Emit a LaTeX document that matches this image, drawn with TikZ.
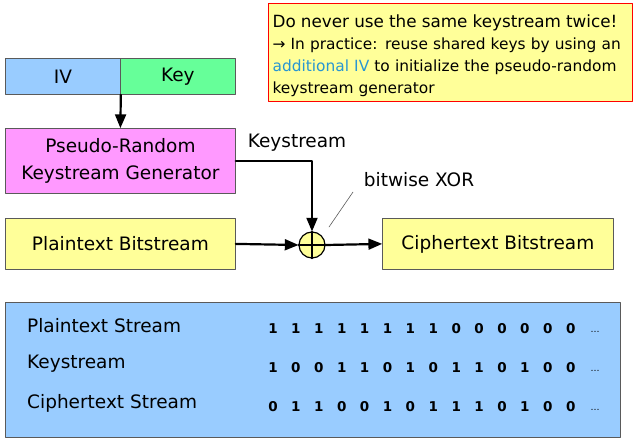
\documentclass[tikz,border=0pt]{standalone}
\usepackage{fontspec}
\setmainfont{DejaVu Sans}
\usepackage{tikz}
\usetikzlibrary{arrows}
\usetikzlibrary{positioning}

\definecolor{IVBlue}{RGB}{153,204,255}
\definecolor{KeyGreen}{RGB}{102,255,153}
\definecolor{GenPink}{RGB}{255,153,255}
\definecolor{StreamYellow}{RGB}{255,255,153}
\definecolor{BoxBorder}{RGB}{90,90,90}
\definecolor{AddBlue}{RGB}{40,150,210}

\begin{document}
\begin{tikzpicture}[line cap=round,line join=round,>=triangle 45,x=1pt,y=-1pt,
  box/.style={draw=BoxBorder,line width=0.8pt,inner sep=0pt,font=\fontsize{18.5}{27}\selectfont},
  flow/.style={->,line width=2.2pt,color=black},
  lbl/.style={inner sep=0pt,font=\fontsize{18.5}{21}\selectfont},
  bit/.style={inner sep=0pt,font=\fontsize{13.5}{14}\selectfont\bfseries}]
\useasboundingbox (0,0) rectangle (639,444);
% key material and generator
\node[box,fill=IVBlue,anchor=north west,minimum width=115pt,minimum height=36pt] (iv) at (5,58) {IV};
\node[box,fill=KeyGreen,anchor=north west,minimum width=115pt,minimum height=36pt] (key) at (120,58) {Key};
\node[box,fill=GenPink,anchor=north west,minimum width=230pt,minimum height=65pt,align=center] (prg) at (5,128) {Pseudo-Random\\Keystream Generator};
\node[box,fill=StreamYellow,anchor=north west,minimum width=230pt,minimum height=51pt] (plain) at (5,218) {Plaintext Bitstream};
\node[box,fill=StreamYellow,anchor=north west,minimum width=231pt,minimum height=51pt] (cipher) at (382,218) {Ciphertext Bitstream};
% xor
\node[circle,draw,line width=1.2pt,fill=StreamYellow,minimum size=26pt,inner sep=0pt] (xor) at (312,245) {};
\draw[line width=1.2pt] (xor.north) -- (xor.south) (xor.west) -- (xor.east);
\draw[flow] (iv.south east) -- (prg.north);
\draw[flow] (prg.east) -| (xor.north);
\draw[flow] (plain.east) -- (xor.west);
\draw[flow] (xor.east) -- (cipher.west);
\node[lbl] (kslabel) at (297,143) {Keystream};
\node[lbl] (xorlabel) at (419,180) {bitwise XOR};
\coordinate (ptrstart) at (353,192);
\coordinate (ptrend) at (329,227);
\draw[line width=0.6pt,color=BoxBorder] (ptrstart) -- (ptrend);
% warning
\node[draw=red,line width=1.2pt,fill=StreamYellow,anchor=north west,minimum height=98pt,text width=356pt,inner xsep=4pt,align=left,font=\fontsize{15.4}{22}\selectfont] (note) at (268,3)
  {\rule{0pt}{19pt}{\fontsize{16.8}{22}\selectfont Do never use the same keystream twice!}\\
   → In practice: reuse shared keys by using an\\
   \textcolor{AddBlue}{additional IV} to initialize the pseudo-random\\
   keystream generator};
% example streams
\node[draw=BoxBorder,line width=0.8pt,fill=IVBlue,anchor=north west,minimum width=615pt,minimum height=135pt] (streams) at (5,302) {};
\node[lbl,anchor=west] (plainrow) at (27,326) {Plaintext Stream};
\node[lbl,anchor=west] (keyrow) at (27,364) {Keystream};
\node[lbl,anchor=west] (cipherrow) at (27,403) {Ciphertext Stream};
\foreach \b [count=\i from 0] in {1,1,1,1,1,1,1,1,0,0,0,0,0,0}
  \node[bit] (p\i) at (273+22.9*\i,329) {\b};
\foreach \b [count=\i from 0] in {1,0,0,1,1,0,1,0,1,1,0,1,0,0}
  \node[bit] (k\i) at (273+22.9*\i,368) {\b};
\foreach \b [count=\i from 0] in {0,1,1,0,0,1,0,1,1,1,0,1,0,0}
  \node[bit] (c\i) at (273+22.9*\i,407) {\b};
\node[bit,font=\fontsize{9}{9}\selectfont] (pdots) at (595,332) {…};
\node[bit,font=\fontsize{9}{9}\selectfont] (kdots) at (595,371) {…};
\node[bit,font=\fontsize{9}{9}\selectfont] (cdots) at (595,410) {…};
\end{tikzpicture}
\end{document}
